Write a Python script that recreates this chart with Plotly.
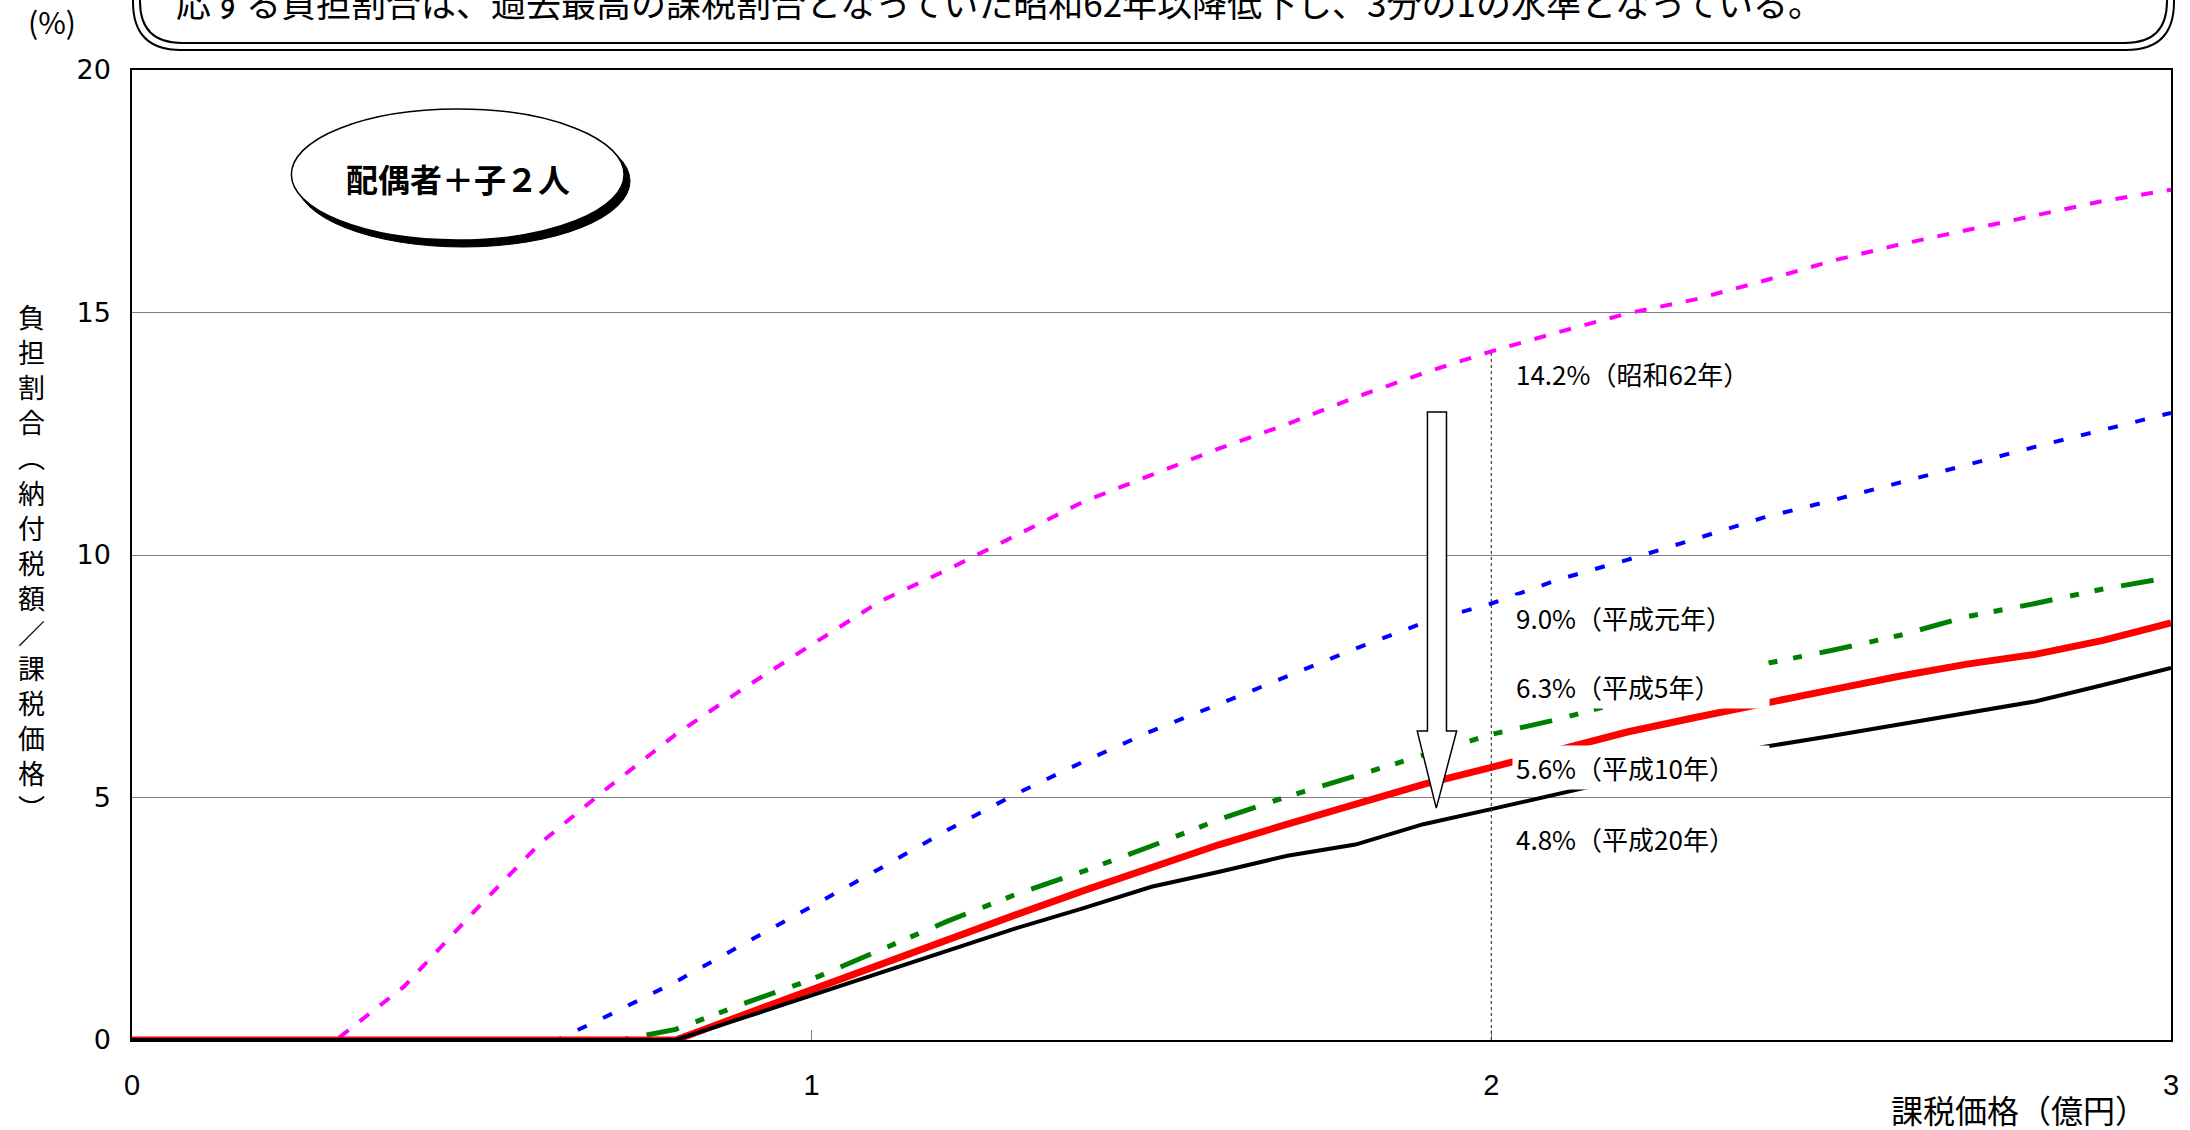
import plotly.graph_objects as go

# ---------------- data ----------------
X_TICKS = [0, 1, 2, 3]
Y_TICKS = [0, 5, 10, 15, 20]

S62_X = [0, 0.3, 0.4, 0.5, 0.6, 0.7, 0.8, 0.9, 1.0, 1.1, 1.2, 1.3, 1.4, 1.5, 1.6, 1.7, 1.8, 1.9, 2.0,
         2.1, 2.2, 2.3, 2.4, 2.5, 2.6, 2.7, 2.8, 2.9, 3.0]
S62_Y = [0, 0, 1.1, 2.6, 4.05, 5.2, 6.3, 7.25, 8.15, 9.04, 9.7, 10.4, 11.1, 11.65, 12.2, 12.7, 13.25, 13.75, 14.2,
         14.6, 14.98, 15.27, 15.65, 16.06, 16.4, 16.7, 17.0, 17.3, 17.53]

H1_X = [0, 0.625, 0.7, 0.8, 0.9, 1.0, 1.1, 1.2, 1.3, 1.4, 1.5, 1.6, 1.7, 1.8, 1.9, 2.0,
        2.1, 2.2, 2.3, 2.4, 2.5, 2.6, 2.7, 2.8, 2.9, 3.0]
H1_Y = [0, 0, 0.5, 1.2, 1.98, 2.75, 3.53, 4.33, 5.07, 5.74, 6.37, 6.93, 7.51, 8.07, 8.6, 9.0,
        9.5, 9.9, 10.33, 10.77, 11.12, 11.5, 11.86, 12.23, 12.57, 12.93]

H5_X = [0, 0.72, 0.8, 0.9, 1.0, 1.1, 1.2, 1.3, 1.4, 1.5, 1.6, 1.7, 1.8, 1.9, 2.0,
        2.1, 2.2, 2.3, 2.4, 2.5, 2.6, 2.7, 2.8, 2.9, 3.0]
H5_Y = [0, 0, 0.22, 0.75, 1.25, 1.85, 2.45, 3.0, 3.48, 4.0, 4.55, 5.02, 5.45, 5.87, 6.3,
        6.62, 7.0, 7.38, 7.75, 8.03, 8.34, 8.73, 9.0, 9.3, 9.54]

H10_X = [0, 0.8, 0.9, 1.0, 1.1, 1.2, 1.3, 1.4, 1.5, 1.6, 1.7, 1.8, 1.9, 2.0,
         2.1, 2.2, 2.3, 2.4, 2.5, 2.6, 2.7, 2.8, 2.9, 3.0]
H10_Y = [0, 0, 0.52, 1.04, 1.56, 2.07, 2.58, 3.08, 3.57, 4.03, 4.45, 4.86, 5.27, 5.62,
         6.0, 6.35, 6.65, 6.95, 7.22, 7.5, 7.75, 7.95, 8.24, 8.6]

H20_X = [0, 0.8, 0.9, 1.0, 1.1, 1.2, 1.3, 1.4, 1.5, 1.6, 1.7, 1.8, 1.9, 2.0,
         2.1, 2.2, 2.3, 2.4, 2.5, 2.6, 2.7, 2.8, 2.9, 3.0]
H20_Y = [0, 0, 0.46, 0.92, 1.38, 1.82, 2.3, 2.72, 3.16, 3.47, 3.8, 4.03, 4.45, 4.76,
         5.08, 5.4, 5.72, 6.04, 6.27, 6.5, 6.74, 6.98, 7.32, 7.67]

LABEL_TEXTS = ["14.2%（昭和62年）", "9.0%（平成元年）", "6.3%（平成5年）", "5.6%（平成10年）", "4.8%（平成20年）"]
LABEL_Y = [13.74, 8.72, 7.28, 5.61, 4.16]
LABEL_X = 2.03
MARK_X = 2.0  # reference point (2億円)

TOP_TEXT = "応する負担割合は、過去最高の課税割合となっていた昭和62年以降低下し、3分の1の水準となっている。"
Y_TITLE = "負担割合︵納付税額／課税価格︶"
X_TITLE = "課税価格（億円）"
BADGE = "配偶者＋子２人"

# ---------------- layout geometry ----------------
W, H = 2190, 1130
L, R, T, B = 132, 2179, 70, 1040
JP = "Noto Sans CJK JP"
NUM = "Liberation Sans"


def px_x(p):
    return (p - L) / (R - L)


def px_y(p):
    return (B - p) / (B - T)


fig = go.Figure()

series = [
    (S62_X, S62_Y, "#FF00FF", 4, "12px,14px"),
    (H1_X, H1_Y, "#0000FF", 4, "10px,18px"),
    (H5_X, H5_Y, "#008000", 5, "33px,18px,9px,16px,9px,18px"),
    (H10_X, H10_Y, "#FF0000", 7, "solid"),
    (H20_X, H20_Y, "#000000", 4, "solid"),
]
for xs, ys, col, wd, dash in series:
    fig.add_trace(go.Scatter(x=xs, y=ys, mode="lines",
                             line=dict(color=col, width=wd, dash=dash),
                             showlegend=False, hoverinfo="skip"))

fig.update_layout(
    width=W, height=H, autosize=False,
    margin=dict(l=L, r=W - R, t=T, b=H - B, pad=0),
    paper_bgcolor="white", plot_bgcolor="white",
    showlegend=False,
)
fig.update_xaxes(range=[0, 3], tickvals=X_TICKS, showgrid=False, zeroline=False,
                 showline=True, mirror=True, linecolor="black", linewidth=1.5,
                 ticks="inside", ticklen=10, tickcolor="#808080", tickwidth=1,
                 tickfont=dict(family=NUM, size=29, color="black"),
                 ticklabelstandoff=18)
fig.update_yaxes(range=[0, 20], tickvals=Y_TICKS, showgrid=True, gridcolor="#808080", gridwidth=1,
                 zeroline=False, showline=True, mirror=True, linecolor="black", linewidth=1.5,
                 ticks="", tickfont=dict(family="DejaVu Sans", size=27, color="black"),
                 ticklabelstandoff=14)

shapes = []
# top speech box (double rounded border, cut by the page top)
for (xl, xr, yb, rad) in [(133, 2182, 50, 48), (140, 2175, 43, 42)]:
    path = (f"M {px_x(xl)},{px_y(-80)} L {px_x(xl)},{px_y(yb - rad)} "
            f"Q {px_x(xl)},{px_y(yb)} {px_x(xl + rad)},{px_y(yb)} "
            f"L {px_x(xr - rad)},{px_y(yb)} "
            f"Q {px_x(xr)},{px_y(yb)} {px_x(xr)},{px_y(yb - rad)} "
            f"L {px_x(xr)},{px_y(-80)}")
    shapes.append(dict(type="path", xref="paper", yref="paper", path=path,
                       line=dict(color="black", width=2)))

# badge ellipse with shadow
EL = (292, 626, 109, 240)
shapes.append(dict(type="circle", xref="paper", yref="paper",
                   x0=px_x(EL[0] + 5), x1=px_x(EL[1] + 6), y0=px_y(EL[3] + 7), y1=px_y(EL[2] + 6),
                   fillcolor="black", line=dict(color="black", width=1)))
shapes.append(dict(type="circle", xref="paper", yref="paper",
                   x0=px_x(EL[0]), x1=px_x(EL[1]), y0=px_y(EL[3]), y1=px_y(EL[2]),
                   fillcolor="white", line=dict(color="black", width=1.5)))

# dotted reference line at 2億円 up to the 昭和62年 curve
mark_top = S62_Y[S62_X.index(MARK_X)]
shapes.append(dict(type="line", xref="x", yref="y", x0=MARK_X, x1=MARK_X, y0=0, y1=mark_top,
                   line=dict(color="#404040", width=1.2, dash="dot")))

# block arrow showing the decline
AX_SHAFT = (1.906, 1.934)
AX_HEAD = (1.891, 1.949)
A_TIP_X = 1.919
A_TOP, A_BASE, A_TIP = 12.95, 6.37, 4.78
arrow = (f"M {AX_SHAFT[0]},{A_TOP} L {AX_SHAFT[1]},{A_TOP} L {AX_SHAFT[1]},{A_BASE} "
         f"L {AX_HEAD[1]},{A_BASE} L {A_TIP_X},{A_TIP} L {AX_HEAD[0]},{A_BASE} "
         f"L {AX_SHAFT[0]},{A_BASE} Z")
shapes.append(dict(type="path", xref="x", yref="y", path=arrow, fillcolor="white",
                   line=dict(color="black", width=1.5), layer="above"))
fig.update_layout(shapes=shapes)

ann = []
ann.append(dict(text=TOP_TEXT, xref="paper", yref="paper", x=px_x(174), y=px_y(1),
                xanchor="left", yanchor="middle", showarrow=False,
                font=dict(family=JP, size=35, color="black")))
ann.append(dict(text="(%)", xref="paper", yref="paper", x=px_x(52), y=px_y(21),
                xanchor="center", yanchor="middle", showarrow=False,
                font=dict(family=JP, size=30, color="black")))
# vertical axis title (stacked characters)
ann.append(dict(text="<br>".join(list(Y_TITLE)), xref="paper", yref="paper", x=px_x(31), y=px_y(562),
                xanchor="center", yanchor="middle", showarrow=False,
                font=dict(family=JP, size=27, color="black")))
ann.append(dict(text=X_TITLE, xref="paper", yref="paper", x=px_x(2026), y=px_y(1109),
                xanchor="center", yanchor="middle", showarrow=False,
                font=dict(family=JP, size=32, color="black")))
ann.append(dict(text="<b>" + BADGE + "</b>", xref="paper", yref="paper",
                x=px_x((EL[0] + EL[1]) / 2), y=px_y(178),
                xanchor="center", yanchor="middle", showarrow=False,
                font=dict(family=JP, size=32, color="black")))
for txt, yv in zip(LABEL_TEXTS, LABEL_Y):
    ann.append(dict(text=txt, xref="x", yref="y", x=LABEL_X, y=yv,
                    xanchor="left", yanchor="middle", showarrow=False,
                    width=250, align="left", bgcolor="white", borderpad=3,
                    font=dict(family=JP, size=26, color="black")))
fig.update_layout(annotations=ann)

fig.write_html("out.html", config={"displayModeBar": False},
               post_script="document.body.style.margin='0';document.body.style.overflow='hidden';")
